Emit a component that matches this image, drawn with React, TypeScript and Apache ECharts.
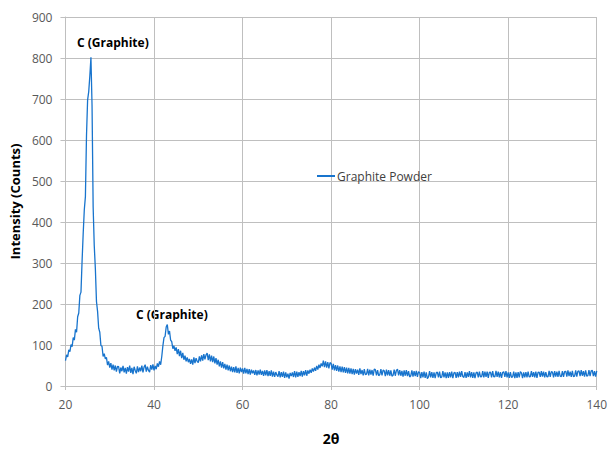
import React, { useEffect, useRef } from "react";
import * as echarts from "echarts";

const START_2THETA = 20;
const STEP_2THETA = 0.25;

// Intensity (counts), one value every 0.25° from 20° to 140° (four per degree)
const counts: number[] = [
  62, 76, 71, 88, 84, 101, 96, 118, 112, 138, 131, 169, 178, 221, 229, 305, // 20-23
  372, 430, 462, 612, 698, 718, 756, 802, 684, 436, 342, 286, 206, 182, 141, 131, // 24-27
  99, 97, 72, 79, 66, 70, 51, 60, 45, 56, 40, 52, 38, 50, 35, 48, // 28-31
  47, 31, 45, 36, 49, 33, 44, 30, 46, 35, 50, 32, 44, 29, 47, 38, // 32-35
  31, 48, 34, 45, 36, 50, 33, 46, 52, 35, 47, 38, 34, 51, 40, 53, // 36-39
  38, 49, 41, 55, 47, 60, 52, 72, 98, 118, 121, 144, 150, 126, 134, 112, // 40-43
  108, 91, 98, 86, 94, 78, 90, 73, 86, 68, 81, 64, 74, 60, 70, 58, // 44-47
  66, 54, 65, 52, 70, 56, 68, 60, 57, 72, 60, 75, 62, 78, 65, 76, // 48-51
  80, 63, 77, 60, 74, 58, 72, 55, 68, 52, 64, 48, 60, 45, 58, 43, // 52-55
  54, 40, 52, 38, 50, 36, 47, 34, 46, 33, 48, 32, 44, 31, 45, 34, // 56-59
  43, 30, 44, 31, 42, 29, 41, 28, 40, 31, 38, 27, 39, 26, 38, 28, // 60-63
  40, 27, 37, 25, 38, 26, 39, 24, 36, 25, 38, 23, 35, 22, 34, 27, // 64-67
  23, 36, 21, 34, 22, 35, 20, 33, 21, 30, 18, 32, 24, 33, 22, 36, // 68-71
  21, 35, 22, 34, 24, 37, 23, 36, 26, 39, 25, 38, 30, 40, 32, 43, // 72-75
  35, 45, 37, 49, 40, 52, 44, 55, 48, 62, 46, 60, 45, 58, 43, 57, // 76-79
  55, 40, 54, 38, 51, 37, 50, 35, 48, 34, 47, 33, 46, 32, 45, 31, // 80-83
  44, 30, 43, 29, 42, 28, 41, 30, 40, 27, 43, 29, 39, 26, 41, 28, // 84-87
  29, 42, 26, 40, 28, 39, 25, 41, 40, 26, 39, 25, 28, 41, 26, 39, // 88-91
  37, 24, 40, 26, 39, 25, 38, 24, 26, 40, 25, 38, 41, 26, 39, 25, // 92-95
  37, 23, 38, 25, 39, 24, 36, 22, 25, 38, 23, 36, 24, 37, 22, 35, // 96-99
  33, 19, 34, 21, 35, 20, 33, 18, 22, 36, 21, 34, 20, 33, 19, 32, // 100-103
  34, 21, 35, 20, 22, 36, 21, 33, 19, 33, 20, 34, 21, 35, 19, 32, // 104-107
  33, 20, 34, 21, 35, 22, 36, 23, 21, 34, 20, 33, 22, 36, 21, 34, // 108-111
  20, 33, 19, 32, 34, 21, 35, 22, 23, 36, 21, 35, 22, 35, 20, 33, // 112-115
  34, 21, 36, 22, 23, 37, 22, 35, 21, 34, 20, 33, 35, 22, 36, 21, // 116-119
  33, 20, 34, 21, 22, 35, 19, 33, 20, 34, 21, 35, 32, 19, 33, 21, // 120-123
  34, 21, 35, 22, 23, 36, 22, 34, 21, 35, 20, 33, 34, 22, 36, 23, // 124-127
  35, 21, 34, 22, 23, 37, 22, 35, 34, 21, 36, 23, 35, 22, 37, 24, // 128-131
  23, 36, 22, 35, 36, 23, 38, 24, 35, 22, 37, 23, 24, 38, 23, 36, // 132-135
  37, 24, 39, 25, 36, 23, 38, 24, 25, 39, 24, 37, 38, 24, 36, 23, // 136-139
  37, // 140
];

const xTicks = [20, 40, 60, 80, 100, 120, 140];
const yMax = 900;
const yStep = 100;

const seriesName = "Graphite Powder";
const annotations = [
  { text: "C (Graphite)", left: 77, top: 36 },
  { text: "C (Graphite)", left: 136, top: 308 },
];

const FONT = "'Open Sans', 'Liberation Sans', sans-serif";
const LINE_COLOR = "#1874cd";

export default function App() {
  const ref = useRef<HTMLDivElement>(null);
  useEffect(() => {
    if (!ref.current) return;
    const chart = echarts.init(ref.current, undefined, { renderer: "svg" });
    const data = counts.map((c, i) => [START_2THETA + i * STEP_2THETA, c]);
    chart.setOption({
      animation: false,
      backgroundColor: "#ffffff",
      grid: { left: 65, right: 11, top: 17, bottom: 55, containLabel: false },
      legend: {
        data: [{ name: seriesName, icon: "rect" }],
        left: 312,
        top: 165,
        itemWidth: 18,
        itemHeight: 2,
        itemGap: 4,
        itemStyle: { color: LINE_COLOR },
        textStyle: { fontFamily: FONT, fontSize: 12, color: "#404040", padding: [0, 0, 0, -3] },
      },
      xAxis: {
        type: "value",
        min: xTicks[0],
        max: xTicks[xTicks.length - 1],
        interval: xTicks[1] - xTicks[0],
        name: "2θ",
        nameLocation: "middle",
        nameGap: 45,
        nameTextStyle: { fontFamily: FONT, fontWeight: "bold", fontSize: 14, color: "#000" },
        axisLine: { show: true, lineStyle: { color: "#bfbfbf", width: 1 } },
        axisTick: { show: true, length: 4, lineStyle: { color: "#bfbfbf" } },
        axisLabel: { fontFamily: FONT, fontSize: 12, color: "#595959", margin: 12 },
        splitLine: { show: true, lineStyle: { color: "#bfbfbf", width: 1 } },
      },
      yAxis: {
        type: "value",
        min: 0,
        max: yMax,
        interval: yStep,
        name: "Intensity (Counts)",
        nameLocation: "middle",
        nameGap: 42,
        nameTextStyle: { fontFamily: FONT, fontWeight: "bold", fontSize: 13, color: "#000" },
        axisLine: { show: true, lineStyle: { color: "#bfbfbf", width: 1 } },
        axisTick: { show: true, length: 5, lineStyle: { color: "#bfbfbf" } },
        axisLabel: { fontFamily: FONT, fontSize: 12, color: "#595959", margin: 13 },
        splitLine: { show: true, lineStyle: { color: "#bfbfbf", width: 1 } },
      },
      series: [
        {
          name: seriesName,
          type: "line",
          data,
          symbol: "none",
          showSymbol: false,
          lineStyle: { color: LINE_COLOR, width: 1.3 },
          itemStyle: { color: LINE_COLOR },
        },
      ],
      graphic: annotations.map((a) => ({
        type: "text",
        left: a.left,
        top: a.top,
        style: {
          text: a.text,
          font: `bold 12px ${FONT}`,
          fill: "#000",
        },
      })),
    });
    return () => chart.dispose();
  }, []);
  return (
    <div
      ref={ref}
      style={{ position: "absolute", left: 0, top: 0, width: 610, height: 450 }}
    />
  );
}
